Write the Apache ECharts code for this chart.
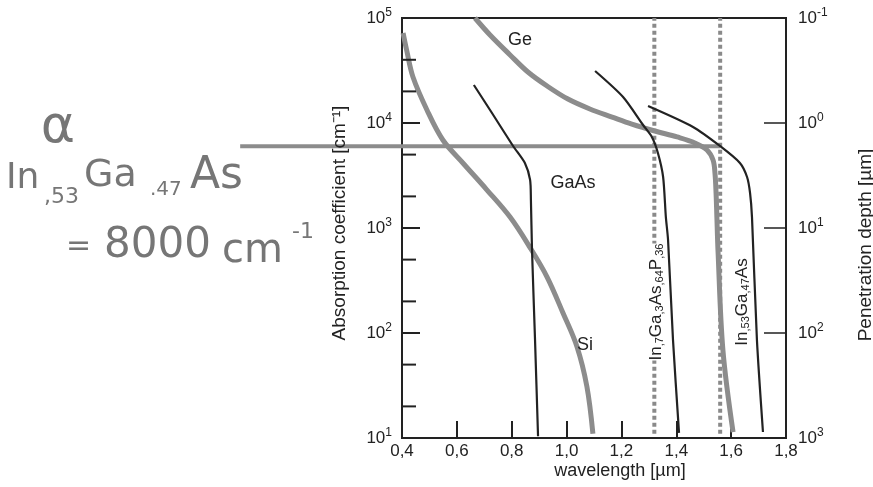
<!DOCTYPE html>
<html>
<head>
<meta charset="utf-8">
<script src="https://cdn.jsdelivr.net/npm/echarts@6/dist/echarts.min.js"></script>
<style>
html,body{margin:0;padding:0;background:#fff;}
#chart{width:873px;height:487px;}
</style>
</head>
<body>
<div id="chart"></div>
<script>
// wavelength [um] / absorption coefficient [cm-1]
var siWl    = [0.404, 0.418, 0.44, 0.491, 0.549, 0.622, 0.71, 0.794, 0.867, 0.929, 0.987, 1.038, 1.074, 1.096];
var siAlpha = [72000, 48000, 27400, 13300, 6890, 4160, 2300, 1270, 650, 341, 155, 74, 31, 11];

var geWl    = [0.666, 0.721, 0.794, 0.859, 0.929, 1.005, 1.085, 1.166, 1.238, 1.322, 1.403, 1.468, 1.512, 1.534, 1.541, 1.545, 1.548, 1.552, 1.57, 1.607];
var geAlpha = [100000, 68900, 44500, 30600, 22500, 16900, 13600, 11400, 9780, 8390, 7360, 6460, 5530, 4440, 3340, 2150, 1270, 617, 69, 11.4];

var gaasWl    = [0.662, 0.721, 0.805, 0.848, 0.867, 0.87, 0.874, 0.885, 0.896];
var gaasAlpha = [23000, 13300, 6040, 4160, 2870, 1850, 617, 86, 10.4];

var ingaaspWl    = [1.104, 1.206, 1.279, 1.311, 1.333, 1.352, 1.362, 1.37, 1.388, 1.41];
var ingaaspAlpha = [31300, 17700, 9570, 7360, 5180, 3060, 1270, 769, 86, 11.2];

var ingaasWl    = [1.297, 1.461, 1.559, 1.632, 1.658, 1.669, 1.676, 1.694, 1.716];
var ingaasAlpha = [14500, 9160, 6040, 4160, 3060, 2150, 1270, 86, 11.4];

// pencil line at alpha ~ 6000 (runs out to the notes) and the dotted 1.3 / 1.55 um markers
var refWl = [-0.19, 1.56];
var refAlpha = 6000;
var markerWl = [1.32, 1.56];
var markerAlpha = [11, 100000];

var xMin = 0.4, xMax = 1.8, xStep = 0.2;
var yMin = 10, yMax = 100000;
var depthMin = 0.1, depthMax = 1000;
var yMinorTicks = [20, 50, 200, 500, 2000, 5000, 20000, 40000];

var FONT = 'Liberation Sans';
var INK = '#222';
var GRAY = '#8c8c8c';
var PENCIL = '#767676';

function zip(xs, ys) {
    var out = [];
    for (var i = 0; i < xs.length; i++) {
        out.push([xs[i], ys[i]]);
    }
    return out;
}

function powLabel(v) {
    var e = Math.round(Math.log10(v));
    return '10{sup|' + e + '}';
}

var supRich = {
    sup: {fontSize: 12, fontFamily: FONT, color: INK, verticalAlign: 'top', lineHeight: 12}
};

var chart = echarts.init(document.getElementById('chart'));

var series = [];
for (var i = 0; i < markerWl.length; i++) {
    series.push({
        type: 'line',
        data: [[markerWl[i], markerAlpha[0]], [markerWl[i], markerAlpha[1]]],
        symbol: 'none',
        lineStyle: {color: '#8a8a8a', width: 4, type: [4, 3], cap: 'butt'},
        z: 1
    });
}
// the line leaves the plot to the left, so it is extended along the x scale by hand
series.push({
    type: 'custom',
    data: [[refWl[1], refAlpha]],
    renderItem: function (params, api) {
        var a = api.coord([xMin, refAlpha]);
        var b = api.coord([xMax, refAlpha]);
        var k = (b[0] - a[0]) / (xMax - xMin);
        return {
            type: 'line',
            shape: {x1: a[0] + (refWl[0] - xMin) * k, y1: a[1], x2: a[0] + (refWl[1] - xMin) * k, y2: a[1]},
            style: {stroke: GRAY, lineWidth: 4}
        };
    },
    z: 2
});
series.push({
    name: 'Si', type: 'line', data: zip(siWl, siAlpha), symbol: 'none', smooth: 0.35,
    lineStyle: {color: GRAY, width: 5}, z: 3
});
series.push({
    name: 'Ge', type: 'line', data: zip(geWl, geAlpha), symbol: 'none', smooth: 0.35,
    lineStyle: {color: GRAY, width: 5}, z: 3
});
series.push({
    name: 'GaAs', type: 'line', data: zip(gaasWl, gaasAlpha), symbol: 'none', smooth: 0.25,
    lineStyle: {color: INK, width: 2.2}, z: 4
});
series.push({
    name: 'InGaAsP', type: 'line', data: zip(ingaaspWl, ingaaspAlpha), symbol: 'none', smooth: 0.25,
    lineStyle: {color: INK, width: 2.2}, z: 4
});
series.push({
    name: 'InGaAs', type: 'line', data: zip(ingaasWl, ingaasAlpha), symbol: 'none', smooth: 0.25,
    lineStyle: {color: INK, width: 2.2}, z: 4
});
// minor ticks of the left axis, drawn inward
series.push({
    type: 'custom',
    data: yMinorTicks.map(function (v) { return [xMin, v]; }),
    renderItem: function (params, api) {
        var p = api.coord([api.value(0), api.value(1)]);
        return {
            type: 'line',
            shape: {x1: p[0], y1: p[1], x2: p[0] + 14, y2: p[1]},
            style: {stroke: INK, lineWidth: 2}
        };
    },
    z: 5
});

function txt(x, y, text, size, extra) {
    var el = {
        type: 'text', x: x, y: y, z: 100,
        style: {
            text: text, fontSize: size, fontFamily: FONT, fill: INK,
            textAlign: 'center', textVerticalAlign: 'middle'
        }
    };
    if (extra) {
        for (var k in extra) {
            if (k === 'style') {
                for (var s in extra.style) el.style[s] = extra.style[s];
            } else {
                el[k] = extra[k];
            }
        }
    }
    return el;
}

function pencil(x, y, text, size) {
    return txt(x, y, text, size, {style: {fill: PENCIL, textAlign: 'left', fontFamily: 'DejaVu Sans'}});
}

var subRich = {
    s: {fontSize: 11, fontFamily: FONT, fill: INK, verticalAlign: 'bottom', lineHeight: 11}
};

var graphics = [
    // curve labels
    txt(520, 40, 'Ge', 18),
    txt(573, 183, 'GaAs', 18),
    txt(585, 345, 'Si', 18),
    txt(656, 302, 'In{s|,7}Ga{s|,3}As{s|,64}P{s|,36}', 17, {
        rotation: Math.PI / 2,
        style: {rich: subRich, lineHeight: 19, backgroundColor: '#fff'}
    }),
    txt(742, 302, 'In{s|,53}Ga{s|,47}As', 17, {
        rotation: Math.PI / 2,
        style: {rich: subRich, lineHeight: 19}
    }),
    // axis titles placed as in the figure
    txt(340, 223, 'Absorption coefficient [cm\u207b\u00b9]', 19, {rotation: Math.PI / 2}),
    txt(866, 245, 'Penetration depth [\u00b5m]', 19, {rotation: Math.PI / 2}),
    txt(620, 471, 'wavelength [\u00b5m]', 18),
    // pencil notes
    txt(58, 128, '\u03b1', 52, {style: {fill: PENCIL, fontFamily: 'DejaVu Sans'}}),
    pencil(6, 179, 'In', 36),
    pencil(44, 197, ',53', 22),
    pencil(84, 176, 'Ga', 38),
    pencil(150, 190, '.47', 20),
    pencil(190, 177, 'As', 44),
    pencil(66, 247, '=', 30),
    pencil(104, 246, '8000', 42),
    pencil(222, 252, 'cm', 40),
    pencil(292, 232, '-1', 22)
];

var option = {
    animation: false,
    backgroundColor: '#fff',
    grid: {
        left: 402, right: 87, top: 18, bottom: 49,
        show: true, borderColor: INK, borderWidth: 2, backgroundColor: 'transparent'
    },
    xAxis: {
        type: 'value', min: xMin, max: xMax, interval: xStep,
        axisLine: {show: true, lineStyle: {color: INK, width: 2}},
        axisTick: {show: true, inside: true, length: 17, lineStyle: {color: INK, width: 2}},
        axisLabel: {
            fontFamily: FONT, fontSize: 17, color: INK, margin: 5,
            showMinLabel: true, showMaxLabel: true,
            formatter: function (v) { return v.toFixed(1).replace('.', ','); }
        },
        splitLine: {show: false}
    },
    yAxis: [{
        type: 'log', logBase: 10, min: yMin, max: yMax, position: 'left',
        axisLine: {show: true, lineStyle: {color: INK, width: 2}},
        axisTick: {show: true, inside: true, length: 18, lineStyle: {color: INK, width: 2}},
        axisLabel: {
            fontFamily: FONT, fontSize: 17, color: INK, margin: 10, lineHeight: 22,
            formatter: powLabel, rich: supRich
        },
        splitLine: {show: false}
    }, {
        type: 'log', logBase: 10, min: depthMin, max: depthMax, inverse: true, position: 'right',
        axisLine: {show: true, lineStyle: {color: INK, width: 2}},
        axisTick: {show: true, inside: true, length: 22, lineStyle: {color: INK, width: 1.5}},
        axisLabel: {
            fontFamily: FONT, fontSize: 17, color: INK, margin: 12, lineHeight: 22,
            formatter: powLabel, rich: supRich
        },
        splitLine: {show: false}
    }],
    series: series,
    graphic: graphics
};

chart.setOption(option);
</script>
</body>
</html>
